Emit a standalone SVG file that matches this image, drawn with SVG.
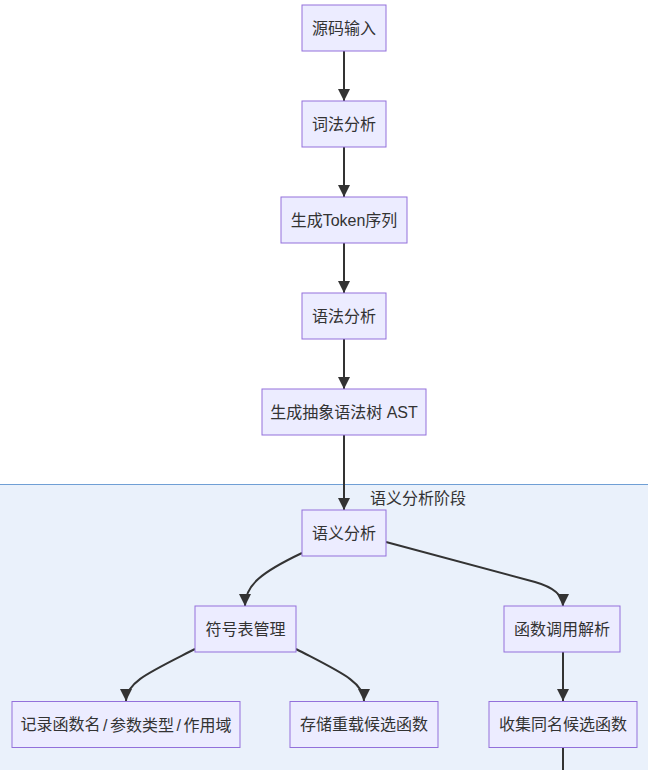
<svg xmlns="http://www.w3.org/2000/svg" width="648" height="770" viewBox="0 0 648 770">
<defs>
<style>
.node rect{fill:#ECECFF;stroke:#9370DB;stroke-width:1}
.node text,.clabel{font-family:"Liberation Sans","Noto Sans CJK SC",sans-serif;font-size:16px;fill:#333;text-anchor:middle;dominant-baseline:central}
.edge{fill:none;stroke:#333;stroke-width:2;marker-end:url(#arrow)}
.edge.plain{marker-end:none}
</style>
<marker id="arrow" viewBox="0 0 10 10" refX="10" refY="5" markerWidth="12" markerHeight="12" markerUnits="userSpaceOnUse" orient="auto">
<path d="M0,0 L10,5 L0,10 z" fill="#333"/>
</marker>
</defs>
<rect width="648" height="770" fill="#fff"/>
<g id="cluster">
<rect x="-1" y="484.5" width="650" height="300" fill="#EAF1FB" stroke="#6F9FD5" stroke-width="1"/>
<text class="clabel" x="418" y="498">语义分析阶段</text>
</g>
<g id="edges">
<path class="edge" d="M344,51 L344,101"/>
<path class="edge" d="M344,147 L344,197"/>
<path class="edge" d="M344,243 L344,293"/>
<path class="edge" d="M344,339 L344,389"/>
<path class="edge" d="M344,435 L344,510"/>
<path class="edge" d="M302,553 C262,572 245,585 245,606"/>
<path class="edge" d="M386,542 L535,582 Q563,590 563,606"/>
<path class="edge" d="M195,649 C150,672 126,682 126,701"/>
<path class="edge" d="M296,649 C340,672 364,682 364,701"/>
<path class="edge" d="M563,652 L563,701"/>
<path class="edge plain" d="M563,748 L563,770"/>
</g>
<g id="n1" class="node"><rect x="302" y="5" width="84" height="46"/><text x="344" y="28">源码输入</text></g>
<g id="n2" class="node"><rect x="302" y="101" width="84" height="46"/><text x="344" y="124">词法分析</text></g>
<g id="n3" class="node"><rect x="281" y="197" width="126" height="46"/><text x="344" y="220">生成Token序列</text></g>
<g id="n4" class="node"><rect x="302" y="293" width="84" height="46"/><text x="344" y="316">语法分析</text></g>
<g id="n5" class="node"><rect x="262" y="389" width="164" height="46"/><text x="344" y="412">生成抽象语法树 AST</text></g>
<g id="n6" class="node"><rect x="302" y="510" width="84" height="46"/><text x="344" y="533">语义分析</text></g>
<g id="n7" class="node"><rect x="195" y="606" width="101" height="46"/><text x="245.5" y="629">符号表管理</text></g>
<g id="n8" class="node"><rect x="504" y="606" width="116" height="46"/><text x="562" y="629">函数调用解析</text></g>
<g id="n9" class="node"><rect x="12" y="701.5" width="228" height="46"/><text x="126" y="724.5">记录函数名<tspan dx="2.5">/</tspan><tspan dx="2.5">参数类型</tspan><tspan dx="2.5">/</tspan><tspan dx="2.5">作用域</tspan></text></g>
<g id="n10" class="node"><rect x="290" y="701.5" width="148" height="46"/><text x="364" y="724.5">存储重载候选函数</text></g>
<g id="n11" class="node"><rect x="489" y="701.5" width="148" height="46"/><text x="563" y="724.5">收集同名候选函数</text></g>
</svg>
